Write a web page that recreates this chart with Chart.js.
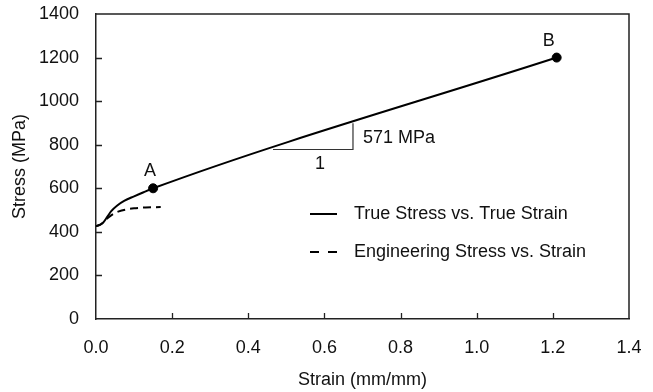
<!DOCTYPE html>
<html>
<head>
<meta charset="utf-8">
<script src="https://cdn.jsdelivr.net/npm/chart.js@4"></script>
<style>
  html, body { margin: 0; padding: 0; background: #fff; }
  #wrap { width: 653px; height: 392px; }
</style>
</head>
<body>
<div id="wrap"><canvas id="c" width="653" height="392"></canvas></div>
<script>
// True stress vs. true strain
const trueStrain = [0, 0.01, 0.02, 0.03, 0.04, 0.055, 0.075, 0.10, 0.125, 0.15, 1.21];
const trueStress = [427, 432, 445, 470, 495, 520, 543, 563, 582, 600, 1200];

// Engineering stress vs. engineering strain
const engStrain = [0, 0.01, 0.02, 0.03, 0.045, 0.06, 0.08, 0.10, 0.13, 0.17];
const engStress = [427, 432, 445, 462, 482, 494, 503, 508, 512, 514];

// Marked points A and B
const markLabels = ['A', 'B'];
const markStrain = [0.15, 1.21];
const markStress = [600, 1200];

// Slope triangle on the linear hardening segment
const slopeStrain = [0.465, 0.675, 0.675];
const slopeStress = [778, 778, 898];
const slopeText = '571 MPa';
const runText = '1';

// Axis ticks
const xTicks = [0, 0.2, 0.4, 0.6, 0.8, 1.0, 1.2, 1.4];
const xTickLabels = ['0.0', '0.2', '0.4', '0.6', '0.8', '1.0', '1.2', '1.4'];
const yTicks = [0, 200, 400, 600, 800, 1000, 1200, 1400];
const yTickLabels = ['0', '200', '400', '600', '800', '1000', '1200', '1400'];

const legendItems = ['True Stress vs. True Strain', 'Engineering Stress vs. Strain'];

const FONT = '"Liberation Sans", Arial, sans-serif';
const INK = '#111';

const toPts = (xs, ys) => xs.map((x, i) => ({ x: x, y: ys[i] }));

// keep the plot area fixed: no extra room reserved for edge tick labels
const noEdgePadding = s => {
  s.paddingTop = 0; s.paddingBottom = 0; s.paddingLeft = 0; s.paddingRight = 0;
};

const decor = {
  id: 'decor',
  afterDraw(chart) {
    const { ctx, chartArea: a, scales: { x, y } } = chart;
    ctx.save();
    // frame top and right
    ctx.strokeStyle = '#222';
    ctx.lineWidth = 1.5;
    ctx.beginPath();
    ctx.moveTo(a.left, a.top);
    ctx.lineTo(a.right, a.top);
    ctx.lineTo(a.right, a.bottom);
    ctx.stroke();
    // inward tick marks
    ctx.lineWidth = 1.3;
    ctx.beginPath();
    yTicks.forEach(v => {
      if (v <= y.min || v >= y.max) return;
      const py = Math.round(y.getPixelForValue(v)) + 0.5;
      ctx.moveTo(a.left, py);
      ctx.lineTo(a.left + 6, py);
    });
    xTicks.forEach(v => {
      if (v <= x.min || v >= x.max) return;
      const px = Math.round(x.getPixelForValue(v)) + 0.5;
      ctx.moveTo(px, a.bottom);
      ctx.lineTo(px, a.bottom - 6);
    });
    ctx.stroke();

    // point labels, set a little up and to the left of each marker
    ctx.fillStyle = INK;
    ctx.font = '18px ' + FONT;
    ctx.textAlign = 'center';
    ctx.textBaseline = 'middle';
    markLabels.forEach((t, i) => {
      const px = x.getPixelForValue(markStrain[i]);
      const py = y.getPixelForValue(markStress[i]);
      ctx.fillText(t, px - (i === 0 ? 3 : 8), py - 17);
    });

    // slope triangle labels
    const rx = x.getPixelForValue(slopeStrain[1]);
    const ry = y.getPixelForValue((slopeStress[1] + slopeStress[2]) / 2);
    ctx.textAlign = 'left';
    ctx.fillText(slopeText, rx + 10, ry + 2);
    const mx = x.getPixelForValue((slopeStrain[0] + slopeStrain[1]) / 2);
    const by = y.getPixelForValue(slopeStress[0]);
    ctx.textAlign = 'center';
    ctx.fillText(runText, mx + 7, by + 15);

    // legend
    const lx = 310, tx = 354;
    const rows = [214, 252];
    ctx.strokeStyle = '#000';
    ctx.lineWidth = 2;
    ctx.beginPath();
    ctx.moveTo(lx, rows[0]);
    ctx.lineTo(lx + 27, rows[0]);
    ctx.stroke();
    ctx.setLineDash([9, 9]);
    ctx.beginPath();
    ctx.moveTo(lx, rows[1]);
    ctx.lineTo(lx + 27, rows[1]);
    ctx.stroke();
    ctx.setLineDash([]);
    ctx.textAlign = 'left';
    legendItems.forEach((t, i) => ctx.fillText(t, tx, rows[i]));
    ctx.restore();
  }
};

new Chart(document.getElementById('c'), {
  type: 'scatter',
  data: {
    datasets: [
      {
        label: legendItems[0],
        data: toPts(trueStrain, trueStress),
        showLine: true,
        borderColor: '#000',
        borderWidth: 2,
        pointRadius: 0,
        cubicInterpolationMode: 'monotone'
      },
      {
        label: legendItems[1],
        data: toPts(engStrain, engStress),
        showLine: true,
        borderColor: '#000',
        borderWidth: 2,
        borderDash: [8, 5],
        pointRadius: 0,
        cubicInterpolationMode: 'monotone'
      },
      {
        label: 'slope',
        data: toPts(slopeStrain, slopeStress),
        showLine: true,
        borderColor: '#333',
        borderWidth: 1.2,
        pointRadius: 0,
        tension: 0
      },
      {
        label: 'points',
        data: toPts(markStrain, markStress),
        showLine: false,
        pointRadius: 4.5,
        pointBackgroundColor: '#000',
        pointBorderColor: '#000'
      }
    ]
  },
  options: {
    responsive: false,
    animation: false,
    events: [],
    layout: { padding: { left: 0, right: 24, top: 14, bottom: 0 } },
    plugins: {
      legend: { display: false },
      tooltip: { enabled: false }
    },
    scales: {
      x: {
        type: 'linear',
        min: 0,
        max: 1.4,
        afterBuildTicks: s => { s.ticks = xTicks.map(v => ({ value: v })); },
        afterFit: s => { s.height = 73; noEdgePadding(s); },
        grid: { display: false, drawTicks: false },
        border: { display: true, color: '#222', width: 1.5 },
        ticks: {
          padding: 18,
          color: INK,
          font: { family: FONT, size: 18 },
          maxRotation: 0,
          autoSkip: false,
          callback: v => xTickLabels[xTicks.indexOf(v)] ?? ''
        },
        title: {
          display: true,
          text: 'Strain (mm/mm)',
          color: INK,
          font: { family: FONT, size: 18 },
          padding: { top: 0, bottom: 1 }
        }
      },
      y: {
        type: 'linear',
        min: 0,
        max: 1400,
        afterBuildTicks: s => { s.ticks = yTicks.map(v => ({ value: v })); },
        afterFit: s => { s.width = 96; noEdgePadding(s); },
        grid: { display: false, drawTicks: false },
        border: { display: true, color: '#222', width: 1.5 },
        ticks: {
          padding: 17,
          color: INK,
          font: { family: FONT, size: 18 },
          autoSkip: false,
          callback: v => yTickLabels[yTicks.indexOf(v)] ?? ''
        },
        title: {
          display: true,
          text: 'Stress (MPa)',
          color: INK,
          font: { family: FONT, size: 18 },
          padding: { top: 9, bottom: 0 }
        }
      }
    }
  },
  plugins: [decor]
});
</script>
</body>
</html>
